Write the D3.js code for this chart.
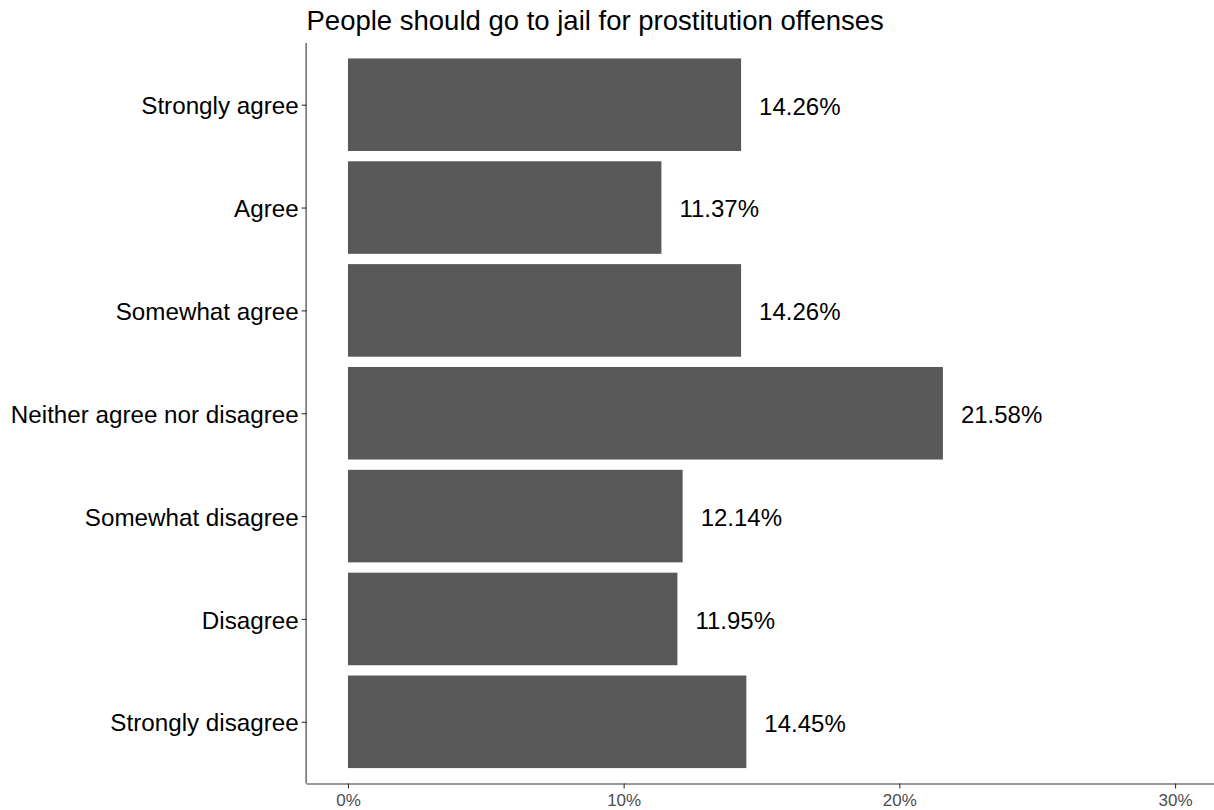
<!DOCTYPE html>
<html><head><meta charset="utf-8">
<script src="https://cdn.jsdelivr.net/npm/d3@7"></script>
<style>body{margin:0;background:#fff}svg{display:block}text{font-family:"Liberation Sans",Arial,Helvetica,sans-serif}</style>
</head><body><svg id="c" width="1214" height="810"></svg>
<script>
const categories = ["Strongly agree","Agree","Somewhat agree","Neither agree nor disagree","Somewhat disagree","Disagree","Strongly disagree"];
const values = [14.26, 11.37, 14.26, 21.58, 12.14, 11.95, 14.45];
const xTicks = [0, 10, 20, 30];
const title = "People should go to jail for prostitution offenses";

(function(){
const svg = d3.select("#c");
const pL = 306.6, pR = 1216.4, pT = 43, pB = 783.5;
const x = d3.scaleLinear().domain([-1.5, 31.5]).range([pL, pR]);
const unit = (pB - pT) / 7.2;
const yc = d => pT + unit * (0.6 + categories.indexOf(d));
const bh = unit * 0.9;

svg.append("g").selectAll("rect").data(categories).join("rect")
  .attr("x", x(0)).attr("y", d => yc(d) - bh/2)
  .attr("width", (d,i) => x(values[i]) - x(0)).attr("height", bh)
  .attr("fill", "#595959");

svg.append("g").selectAll("text").data(categories).join("text")
  .attr("x", (d,i) => x(values[i]) + 18).attr("y", d => yc(d) + 1.5)
  .attr("dy", "0.35em").attr("font-size", 24).attr("fill", "#000")
  .text((d,i) => values[i].toFixed(2) + "%");

const xa = svg.append("g").attr("transform", `translate(0,${pB})`)
  .call(d3.axisBottom(x).tickValues(xTicks).tickSize(5).tickPadding(5).tickFormat(d => d + "%"));
xa.select(".domain").attr("stroke", "#333").attr("stroke-width", 1.1).attr("d", `M${pL},0.5H${pR}`);
xa.selectAll(".tick line").attr("stroke", "#333").attr("stroke-width", 1.1);
xa.selectAll(".tick text").attr("font-size", 17).attr("fill", "#4d4d4d").attr("font-family", '"Liberation Sans",Arial,sans-serif');

const ys = d3.scalePoint().domain(categories).range([yc(categories[0]), yc(categories[6])]);
const ya = svg.append("g").attr("transform", `translate(${pL},0)`)
  .call(d3.axisLeft(ys).tickSize(5).tickPadding(3));
ya.select(".domain").attr("stroke", "#333").attr("stroke-width", 1.1).attr("d", `M-0.5,${pT}V${pB}`);
ya.selectAll(".tick line").attr("stroke", "#333").attr("stroke-width", 1.1);
ya.selectAll(".tick text").attr("font-size", 24.2).attr("fill", "#000").attr("dy", "0.38em").attr("font-family", '"Liberation Sans",Arial,sans-serif');

svg.append("text").attr("x", 306.5).attr("y", 30).attr("font-size", 27.5).attr("fill", "#000").text(title);
})();
</script></body></html>
